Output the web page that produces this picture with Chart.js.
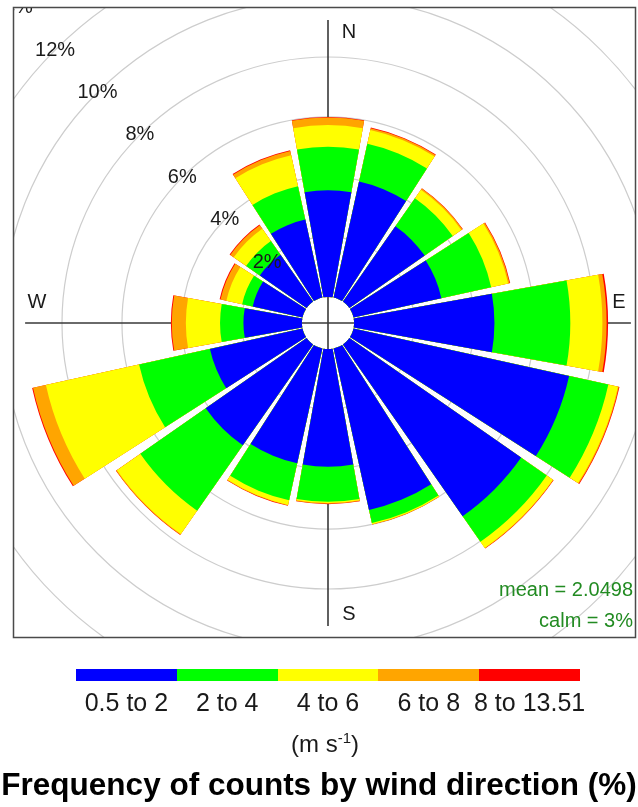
<!DOCTYPE html>
<html>
<head>
<meta charset="utf-8">
<title>Wind rose</title>
<script src="https://cdn.jsdelivr.net/npm/chart.js@4/dist/chart.umd.min.js"></script>
<style>
  html, body { margin: 0; padding: 0; background: #fff; width: 638px; height: 807px; overflow: hidden; }
  #rose { position: absolute; left: 0; top: 0; }
  #key { position: absolute; left: 0; top: 0; width: 638px; height: 807px;
         font-family: "Liberation Sans", Arial, Helvetica, sans-serif; color: #1a1a1a; }
  .seg { position: absolute; top: 669px; height: 12px; }
  .klab { position: absolute; top: 690px; font-size: 25px; line-height: 25px; white-space: nowrap; transform: translateX(-50%); }
  .units { position: absolute; top: 732px; left: 325px; font-size: 24px; line-height: 24px; white-space: nowrap; transform: translateX(-50%); }
  .units sup { font-size: 15px; vertical-align: 9px; line-height: 0; }
  .title { position: absolute; top: 768px; left: 319px; font-size: 31.5px; line-height: 33px; font-weight: bold;
           white-space: nowrap; transform: translateX(-50%); color: #000; }
</style>
</head>
<body>
<canvas id="rose" width="638" height="640"></canvas>
<div id="key"></div>
<script>
// 16 compass sectors, clockwise from north
const directions = ['N', 'NNE', 'NE', 'ENE', 'E', 'ESE', 'SE', 'SSE',
                    'S', 'SSW', 'SW', 'WSW', 'W', 'WNW', 'NW', 'NNW'];

// frequency (%) of each wind-speed class per direction
const freq_0p5_to_2  = [3.56, 3.96, 3.06, 3.00, 4.68, 7.36, 6.98, 5.51, 3.92, 3.92, 4.10, 3.16, 1.95, 1.70, 1.90, 2.66];
const freq_2_to_4    = [1.45, 1.29, 1.14, 1.70, 2.53, 1.34, 1.04, 0.45, 1.17, 1.26, 2.66, 2.42, 0.78, 0.36, 0.56, 1.14];
const freq_4_to_6    = [0.72, 0.47, 0.35, 0.58, 1.07, 0.33, 0.25, 0.04, 0.04, 0.16, 0.95, 3.18, 1.14, 0.54, 0.50, 1.06];
const freq_6_to_8    = [0.25, 0.06, 0.05, 0.05, 0.14, 0.03, 0.02, 0.01, 0.03, 0.02, 0.03, 0.44, 0.47, 0.20, 0.14, 0.14];
const freq_8_to_13p51 = [0.02, 0.02, 0.01, 0.02, 0.05, 0.02, 0.01, 0.00, 0.01, 0.01, 0.01, 0.03, 0.03, 0.03, 0.03, 0.03];

const speedClasses = ['0.5 to 2', '2 to 4', '4 to 6', '6 to 8', '8 to 13.51'];
const classColours = ['#0000ff', '#00ff00', '#ffff00', '#ffa500', '#ff0000'];
const ringValues = [2, 4, 6, 8, 10, 12, 14];
const meanSpeed = 2.0498;
const calmPercent = 3;

// geometry of the rose
const SECTOR_DEG = 20.25;        // 90% of the 22.5 degree bin
const GAP_DEG = 22.5 - SECTOR_DEG;
const CALM_OFFSET = 0.87;        // hollow centre, in % units
const RADIAL_MAX = 9.4;
const PANEL = { x: 13, y: 7, w: 622, h: 630 };
const FONT = '"Liberation Sans", Arial, Helvetica, sans-serif';

const classSeries = [freq_0p5_to_2, freq_2_to_4, freq_4_to_6, freq_6_to_8, freq_8_to_13p51];

// running totals so that each band sits on top of the slower ones
const cumulative = classSeries.map((_, k) =>
  directions.map((d, i) => classSeries.slice(0, k + 1).reduce((s, arr) => s + arr[i], 0)));
const totals = cumulative[cumulative.length - 1];
const maxTotal = Math.max(...totals);

// every sector is followed by a narrow empty slice that forms the gap
const sliceLabels = directions.flatMap(d => [d, '']);
const interleave = arr => arr.flatMap(v => [v, 0]);

const datasets = cumulative.map((cum, k) => ({
  label: speedClasses[k],
  data: interleave(cum),
  backgroundColor: ctx => (ctx.dataIndex % 2 ? 'rgba(0,0,0,0)' : classColours[k]),
  borderWidth: 0,
  angle: ctx => (ctx.dataIndex % 2 ? GAP_DEG : SECTOR_DEG),
  clip: false
}));

const panelClip = {
  id: 'panelClip',
  beforeDraw(chart) {
    const ctx = chart.ctx;
    ctx.save();
    ctx.beginPath();
    ctx.rect(PANEL.x, PANEL.y, PANEL.w, PANEL.h);
    ctx.clip();
  },
  afterDraw(chart) {
    const ctx = chart.ctx;
    ctx.restore();
    ctx.save();
    ctx.strokeStyle = '#4a4a4a';
    ctx.lineWidth = 1.5;
    ctx.strokeRect(PANEL.x + 0.5, PANEL.y + 0.5, PANEL.w, PANEL.h);
    ctx.restore();
  }
};

const roseDecor = {
  id: 'roseDecor',
  beforeDatasetsDraw(chart) {
    const s = chart.scales.r;
    const ctx = chart.ctx;
    const cx = s.xCenter, cy = s.yCenter;
    const R = s.getDistanceFromCenterForValue(maxTotal);
    // sectors start at the edge of the calm circle
    const r0 = s.getDistanceFromCenterForValue(0);
    chart.getSortedVisibleDatasetMetas().forEach(meta =>
      meta.data.forEach(arc => { arc.innerRadius = r0; }));
    // compass cross
    ctx.save();
    ctx.strokeStyle = '#3a3a3a';
    ctx.lineWidth = 1.6;
    ctx.beginPath();
    ctx.moveTo(cx - R, cy); ctx.lineTo(cx + R, cy);
    ctx.moveTo(cx, cy - R); ctx.lineTo(cx, cy + R);
    ctx.stroke();
    ctx.restore();
  },
  afterDatasetsDraw(chart) {
    const s = chart.scales.r;
    const ctx = chart.ctx;
    const cx = s.xCenter, cy = s.yCenter;
    ctx.save();
    ctx.textAlign = 'center';
    ctx.textBaseline = 'middle';
    ctx.fillStyle = '#1a1a1a';
    // ring labels along the north-west diagonal
    ctx.font = '20px ' + FONT;
    ringValues.forEach(v => {
      const r = s.getDistanceFromCenterForValue(v) * Math.SQRT1_2;
      ctx.fillText(v + '%', cx - r, cy - r);
    });
    // compass letters
    const along = 291, side = 21;
    ctx.font = '20px ' + FONT;
    ctx.fillText('N', cx + side, cy - along);
    ctx.fillText('S', cx + side, cy + along);
    ctx.fillText('W', cx - along, cy - side);
    ctx.fillText('E', cx + along, cy - side);
    // summary statistics
    ctx.textAlign = 'right';
    ctx.fillStyle = '#228b22';
    ctx.fillText('mean = ' + meanSpeed, PANEL.x + PANEL.w - 2, 590);
    ctx.fillText('calm = ' + calmPercent + '%', PANEL.x + PANEL.w - 2, 621);
    ctx.restore();
  }
};

new Chart(document.getElementById('rose'), {
  type: 'polarArea',
  data: { labels: sliceLabels, datasets },
  options: {
    responsive: false,
    devicePixelRatio: 1,
    animation: false,
    events: [],
    layout: { padding: { left: 20, right: 2, top: 15, bottom: 9 } },
    plugins: { legend: { display: false }, tooltip: { enabled: false } },
    scales: {
      r: {
        min: -CALM_OFFSET,
        max: RADIAL_MAX,
        startAngle: -SECTOR_DEG / 2,
        ticks: { display: false },
        afterBuildTicks: sc => { sc.ticks = [sc.min, ...ringValues].map(v => ({ value: v })); },
        grid: { display: true, circular: true, color: '#cdcdcd', lineWidth: 1.2 },
        angleLines: { display: false },
        pointLabels: { display: false }
      }
    }
  },
  plugins: [panelClip, roseDecor]
});

// colour key, unit label and title
const key = document.getElementById('key');
const barLeft = 76, barWidth = 504, segW = barWidth / speedClasses.length;
speedClasses.forEach((lab, k) => {
  const seg = document.createElement('div');
  seg.className = 'seg';
  seg.style.left = (barLeft + k * segW) + 'px';
  seg.style.width = Math.ceil(segW) + 'px';
  seg.style.background = classColours[k];
  key.appendChild(seg);
  const t = document.createElement('div');
  t.className = 'klab';
  t.style.left = (barLeft + (k + 0.5) * segW) + 'px';
  t.textContent = lab;
  key.appendChild(t);
});
const units = document.createElement('div');
units.className = 'units';
units.innerHTML = '(m s<sup>-1</sup>)';
key.appendChild(units);
const title = document.createElement('div');
title.className = 'title';
title.textContent = 'Frequency of counts by wind direction (%)';
key.appendChild(title);
</script>
</body>
</html>
